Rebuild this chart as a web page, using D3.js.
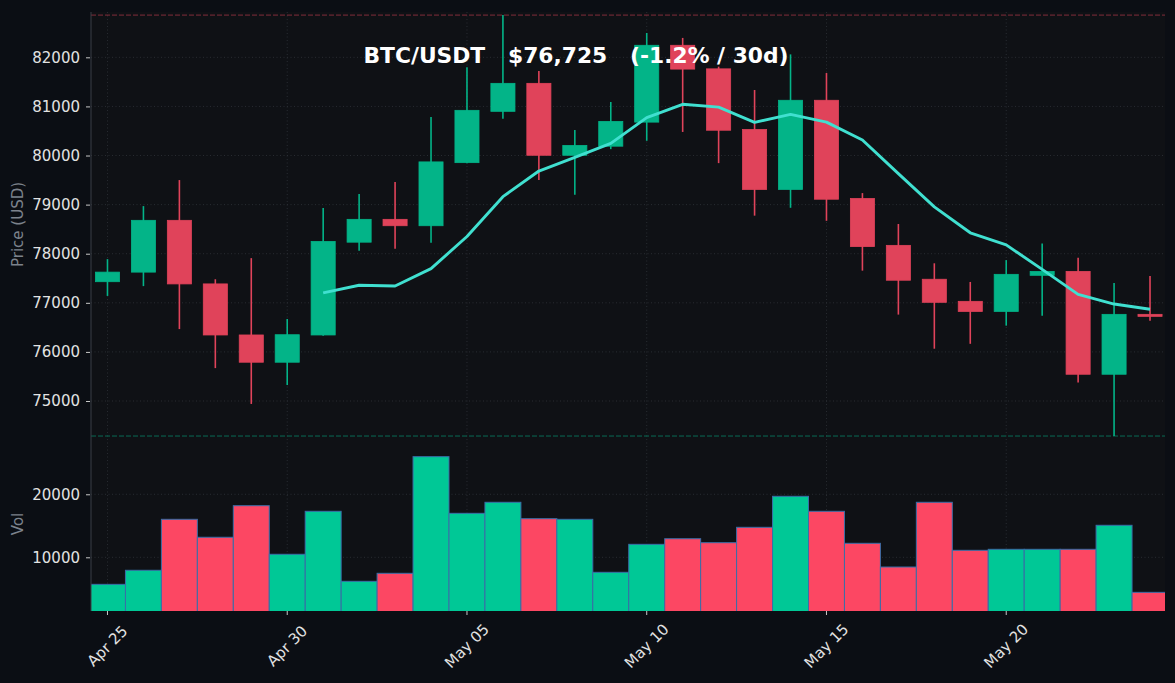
<!DOCTYPE html>
<html>
<head>
<meta charset="utf-8">
<script src="https://cdn.jsdelivr.net/npm/d3@7"></script>
<style>
  html, body { margin: 0; padding: 0; background: #0b0e14; }
  svg { display: block; font-family: "DejaVu Sans", sans-serif; }
</style>
</head>
<body>
<svg id="chart" width="1175" height="683"></svg>
<script>
// Data
const dates = [
  "2025-04-25", "2025-04-26", "2025-04-27", "2025-04-28", "2025-04-29", "2025-04-30",
  "2025-05-01", "2025-05-02", "2025-05-03", "2025-05-04", "2025-05-05", "2025-05-06",
  "2025-05-07", "2025-05-08", "2025-05-09", "2025-05-10", "2025-05-11", "2025-05-12",
  "2025-05-13", "2025-05-14", "2025-05-15", "2025-05-16", "2025-05-17", "2025-05-18",
  "2025-05-19", "2025-05-20", "2025-05-21", "2025-05-22", "2025-05-23", "2025-05-24",
];
const opens = [
  77430, 77625, 78680, 77385, 76345, 75790, 76345, 78235, 78700, 78570, 79855, 80900,
  81470, 80005, 80190, 80680, 82245, 81765, 80530, 79310, 81125, 79125, 78170, 77480,
  77030, 76825, 77560, 77640, 75545, 76765,
];
const highs = [
  77890, 78970, 79500, 77480, 77910, 76670, 78930, 79215, 79460, 80785, 81800, 82860,
  81720, 80520, 81090, 82495, 82395, 81810, 81335, 82060, 81680, 79235, 78605, 77805,
  77425, 77870, 78210, 77920, 77405, 77545,
];
const lows = [
  77140, 77340, 76465, 75670, 74940, 75325, 76330, 78060, 78100, 78225, 79840, 80750,
  79500, 79200, 80130, 80300, 80480, 79845, 78775, 78935, 78670, 77655, 76760, 76065,
  76165, 76535, 76735, 75375, 74287, 76635,
];
const closes = [
  77625, 78680, 77385, 76345, 75790, 76350, 78250, 78700, 78570, 79870, 80920, 81470,
  80005, 80205, 80695, 82245, 81760, 80515, 79310, 81125, 79110, 78145, 77460, 77010,
  76825, 77580, 77640, 75545, 76765, 76725,
];
const volumes = [
  5710, 7940, 16030, 13180, 18190, 10480, 17300, 6190, 7460, 25970, 16980, 18730,
  16130, 16030, 7620, 12060, 12950, 12320, 14760, 19680, 17300, 12220, 8460, 18730,
  11110, 11270, 11270, 11270, 15080, 4440,
];
const priceTicks = [75000, 76000, 77000, 78000, 79000, 80000, 81000, 82000];
const volTicks = [10000, 20000];
const priceLimits = [74267, 82923];
const volLimits = [1480, 29090];
const maWindow = 7;
const symbol = "BTC/USDT";

// Colors
const bgFig = "#0b0e14";
const bgAxes = "#0f1115";
const upColor = "#03b488";
const downColor = "#e0435a";
const volUp = "#00c896";
const volDown = "#fc4763";
const maColor = "#40e0d0";
const gridColor = "#30333a";
const tickColor = "#e2e2e2";
const labelColor = "#7c828c";

// Layout
const width = 1175;
const height = 683;
const plotLeft = 91;
const plotRight = 1165;
const priceTop = 12;
const priceBottom = 437;
const volTop = 437;
const volBottom = 611;

const parseDate = d3.timeParse("%Y-%m-%d");
const candles = dates.map((d, i) => ({
  date: parseDate(d),
  open: opens[i],
  high: highs[i],
  low: lows[i],
  close: closes[i],
  volume: volumes[i],
  up: closes[i] >= opens[i],
}));

// moving average of closes
const maData = [];
for (let i = maWindow - 1; i < candles.length; i++) {
  const avg = d3.mean(closes.slice(i - maWindow + 1, i + 1));
  maData.push({ date: candles[i].date, value: avg });
}

// Scales
const firstDay = candles[0].date;
const lastDay = candles[candles.length - 1].date;
const x = d3
  .scaleTime()
  .domain([d3.timeHour.offset(firstDay, -10.8), d3.timeHour.offset(lastDay, 10.8)])
  .range([plotLeft, plotRight]);
const dayWidth = x(d3.timeDay.offset(firstDay, 1)) - x(firstDay);

const yPrice = d3.scaleLinear().domain(priceLimits).range([priceBottom, priceTop]);
const yVol = d3.scaleLinear().domain(volLimits).range([volBottom, volTop]);

const xTicks = d3.range(0, candles.length, 5).map((i) => candles[i].date);
const fmtDate = d3.timeFormat("%b %d");

const svg = d3.select("#chart");
svg.append("rect").attr("width", width).attr("height", height).attr("fill", bgFig);

const defs = svg.append("defs");
defs
  .append("clipPath")
  .attr("id", "clip-price")
  .append("rect")
  .attr("x", plotLeft)
  .attr("y", priceTop)
  .attr("width", plotRight - plotLeft)
  .attr("height", priceBottom - priceTop);
defs
  .append("clipPath")
  .attr("id", "clip-vol")
  .append("rect")
  .attr("x", plotLeft)
  .attr("y", volTop)
  .attr("width", plotRight - plotLeft)
  .attr("height", volBottom - volTop);

// Axes backgrounds
svg
  .append("rect")
  .attr("x", plotLeft)
  .attr("y", priceTop)
  .attr("width", plotRight - plotLeft)
  .attr("height", volBottom - priceTop)
  .attr("fill", bgAxes);

// Grid
const grid = svg.append("g").attr("stroke", gridColor).attr("stroke-width", 0.8).attr("stroke-dasharray", "1,2.5");
grid
  .selectAll(".vgrid")
  .data(xTicks)
  .enter()
  .append("line")
  .attr("x1", (d) => x(d))
  .attr("x2", (d) => x(d))
  .attr("y1", priceTop)
  .attr("y2", volBottom);
grid
  .selectAll(".pgrid")
  .data(priceTicks)
  .enter()
  .append("line")
  .attr("x1", plotLeft)
  .attr("x2", plotRight)
  .attr("y1", (d) => yPrice(d))
  .attr("y2", (d) => yPrice(d));
grid
  .selectAll(".vgrid2")
  .data(volTicks)
  .enter()
  .append("line")
  .attr("x1", plotLeft)
  .attr("x2", plotRight)
  .attr("y1", (d) => yVol(d))
  .attr("y2", (d) => yVol(d));

// High / low reference lines
const maxHigh = d3.max(highs);
const minLow = d3.min(lows);
svg
  .append("line")
  .attr("x1", plotLeft)
  .attr("x2", plotRight)
  .attr("y1", yPrice(maxHigh))
  .attr("y2", yPrice(maxHigh))
  .attr("stroke", downColor)
  .attr("stroke-opacity", 0.55)
  .attr("stroke-width", 1)
  .attr("stroke-dasharray", "5,2");
svg
  .append("line")
  .attr("x1", plotLeft)
  .attr("x2", plotRight)
  .attr("y1", yPrice(minLow))
  .attr("y2", yPrice(minLow))
  .attr("stroke", upColor)
  .attr("stroke-opacity", 0.55)
  .attr("stroke-width", 1)
  .attr("stroke-dasharray", "5,2");

// Candles
const priceG = svg.append("g").attr("clip-path", "url(#clip-price)");
const bodyW = dayWidth * 0.67;

priceG
  .selectAll(".wick")
  .data(candles)
  .enter()
  .append("line")
  .attr("class", "wick")
  .attr("x1", (d) => x(d.date))
  .attr("x2", (d) => x(d.date))
  .attr("y1", (d) => yPrice(d.high))
  .attr("y2", (d) => yPrice(d.low))
  .attr("stroke", (d) => (d.up ? upColor : downColor))
  .attr("stroke-width", 1.6);

priceG
  .selectAll(".body")
  .data(candles)
  .enter()
  .append("rect")
  .attr("class", "body")
  .attr("x", (d) => x(d.date) - bodyW / 2)
  .attr("y", (d) => yPrice(Math.max(d.open, d.close)))
  .attr("width", bodyW)
  .attr("height", (d) => Math.max(2, Math.abs(yPrice(d.open) - yPrice(d.close))))
  .attr("fill", (d) => (d.up ? upColor : downColor))
  .attr("stroke", (d) => (d.up ? upColor : downColor))
  .attr("stroke-width", 0.8);

// Moving average
const maLine = d3
  .line()
  .x((d) => x(d.date))
  .y((d) => yPrice(d.value));
priceG
  .append("path")
  .datum(maData)
  .attr("d", maLine)
  .attr("fill", "none")
  .attr("stroke", maColor)
  .attr("stroke-width", 2.9)
  .attr("stroke-linejoin", "round");

// Volume bars
const volG = svg.append("g").attr("clip-path", "url(#clip-vol)");
volG
  .selectAll(".vol")
  .data(candles)
  .enter()
  .append("rect")
  .attr("class", "vol")
  .attr("x", (d) => x(d.date) - dayWidth / 2)
  .attr("y", (d) => yVol(d.volume))
  .attr("width", dayWidth)
  .attr("height", (d) => yVol(0) - yVol(d.volume))
  .attr("fill", (d) => (d.up ? volUp : volDown))
  .attr("stroke", "#3a6ea8")
  .attr("stroke-width", 1);

// Axes
const priceAxis = d3.axisLeft(yPrice).tickValues(priceTicks).tickSize(4).tickPadding(6).tickFormat(d3.format("d"));
const volAxis = d3.axisLeft(yVol).tickValues(volTicks).tickSize(4).tickPadding(6).tickFormat(d3.format("d"));

function styleAxis(g) {
  g.select(".domain").remove();
  g.selectAll(".tick line").attr("stroke", "#c8c8c8").attr("stroke-width", 1);
  g.selectAll(".tick text")
    .attr("fill", tickColor)
    .attr("font-size", 15)
    .attr("font-family", "DejaVu Sans");
}

svg.append("g").attr("transform", `translate(${plotLeft - 1},0)`).call(priceAxis).call(styleAxis);
svg.append("g").attr("transform", `translate(${plotLeft - 1},0)`).call(volAxis).call(styleAxis);

// left spine
svg
  .append("line")
  .attr("x1", plotLeft)
  .attr("x2", plotLeft)
  .attr("y1", priceTop)
  .attr("y2", volBottom)
  .attr("stroke", "#3b3f47")
  .attr("stroke-width", 1);

// x ticks + rotated labels
const xAxisG = svg.append("g");
xAxisG
  .selectAll(".xtick")
  .data(xTicks)
  .enter()
  .append("line")
  .attr("x1", (d) => x(d))
  .attr("x2", (d) => x(d))
  .attr("y1", volBottom)
  .attr("y2", volBottom + 4)
  .attr("stroke", "#c8c8c8");
xAxisG
  .selectAll(".xlabel")
  .data(xTicks)
  .enter()
  .append("text")
  .attr("transform", (d) => `translate(${x(d)},${volBottom + 35}) rotate(-45)`)
  .attr("text-anchor", "middle")
  .attr("dominant-baseline", "central")
  .attr("fill", tickColor)
  .attr("font-size", 15)
  .text((d) => fmtDate(d));

// Axis labels
svg
  .append("text")
  .attr("transform", `translate(18,${(priceTop + priceBottom) / 2}) rotate(-90)`)
  .attr("text-anchor", "middle")
  .attr("dominant-baseline", "central")
  .attr("fill", labelColor)
  .attr("font-size", 15)
  .text("Price (USD)");
svg
  .append("text")
  .attr("transform", `translate(18,${(volTop + volBottom) / 2}) rotate(-90)`)
  .attr("text-anchor", "middle")
  .attr("dominant-baseline", "central")
  .attr("fill", labelColor)
  .attr("font-size", 15)
  .text("Vol");

// Title
const lastClose = closes[closes.length - 1];
const pct = ((lastClose - closes[0]) / closes[0]) * 100;
const titleText = `${symbol}   $${d3.format(",")(lastClose)}   (${pct >= 0 ? "+" : ""}${pct.toFixed(1)}% / 30d)`;
svg
  .append("text")
  .attr("x", 576)
  .attr("y", 63)
  .attr("text-anchor", "middle")
  .attr("fill", "#ffffff")
  .attr("font-size", 21.8)
  .attr("font-weight", "bold")
  .attr("xml:space", "preserve")
  .style("white-space", "pre")
  .text(titleText);
</script>
</body>
</html>
